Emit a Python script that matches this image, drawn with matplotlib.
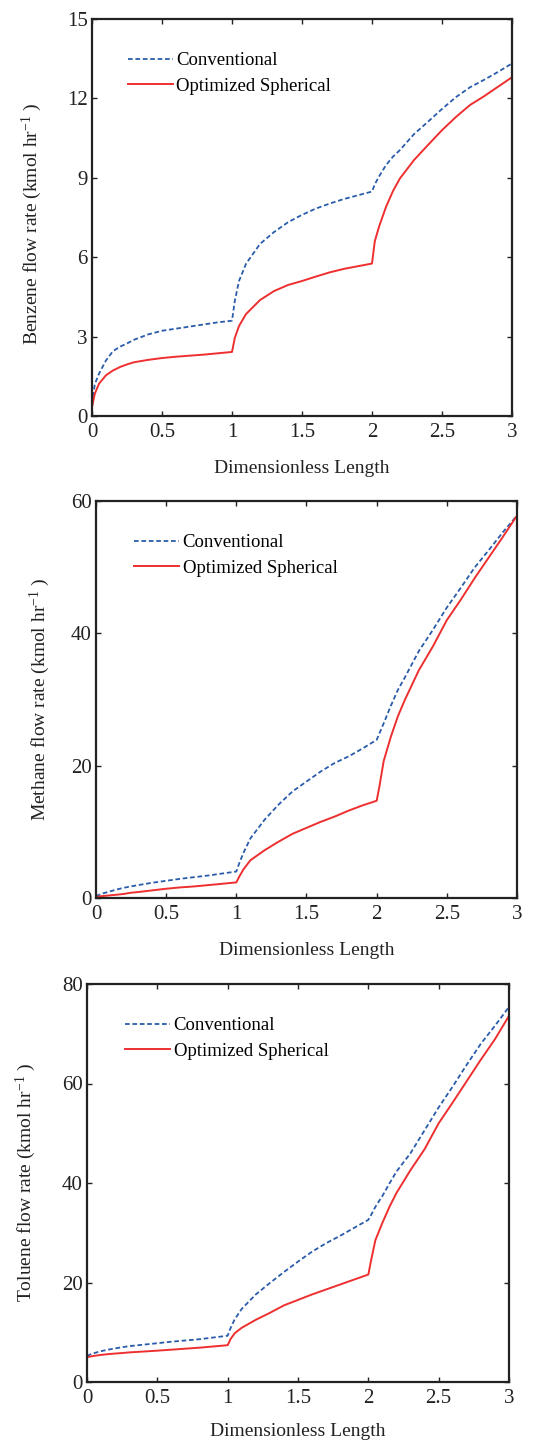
"""
Benzene, methane and toluene flow rates along the reactor
(conventional vs optimized spherical), three stacked panels.
"""
import matplotlib
matplotlib.use("Agg")
import matplotlib.pyplot as plt

plt.rcParams["font.family"] = ["Liberation Serif", "DejaVu Serif"]
plt.rcParams["mathtext.fontset"] = "custom"
plt.rcParams["mathtext.rm"] = "Liberation Serif"
plt.rcParams["mathtext.it"] = "Liberation Serif:italic"

BLUE = "#2a5caa"
RED = "#ee2f2f"
INK = "#222222"

# dimensionless length sample points
x_pts = [0.0, 0.02, 0.05, 0.1, 0.15, 0.2, 0.25, 0.3, 0.4, 0.5, 0.6, 0.7, 0.8, 0.9,
         1.0, 1.02, 1.05, 1.1, 1.2, 1.3, 1.4, 1.5, 1.6, 1.7, 1.8, 1.9,
         2.0, 2.02, 2.05, 2.1, 2.15, 2.2, 2.3, 2.4, 2.5, 2.6, 2.7, 2.8, 2.9, 3.0]

benzene_conv = [0.45, 1.2, 1.6, 2.1, 2.45, 2.62, 2.74, 2.88, 3.08, 3.22, 3.3, 3.38, 3.46, 3.54,
                3.6, 4.35, 5.1, 5.75, 6.5, 6.95, 7.32, 7.6, 7.84, 8.03, 8.2, 8.34,
                8.48, 8.75, 9.05, 9.48, 9.8, 10.05, 10.65, 11.12, 11.6, 12.05, 12.42, 12.7, 13.0, 13.32]
benzene_opt = [0.34, 0.84, 1.22, 1.54, 1.72, 1.85, 1.95, 2.03, 2.12, 2.19, 2.24, 2.28, 2.32, 2.37,
               2.42, 2.95, 3.4, 3.85, 4.38, 4.72, 4.95, 5.1, 5.27, 5.43, 5.56, 5.66,
               5.76, 6.6, 7.15, 7.9, 8.5, 8.98, 9.67, 10.24, 10.8, 11.3, 11.75, 12.08, 12.44, 12.8]

methane_conv = [0.25, 0.45, 0.7, 1.0, 1.3, 1.55, 1.76, 1.95, 2.3, 2.6, 2.9, 3.15, 3.4, 3.7,
                4.0, 5.2, 6.8, 9.0, 11.8, 14.1, 16.1, 17.6, 19.1, 20.4, 21.4, 22.6,
                23.9, 24.9, 26.4, 29.0, 31.4, 33.3, 37.3, 40.5, 43.9, 46.9, 50.0, 52.6, 55.3, 57.8]
methane_opt = [0.15, 0.22, 0.3, 0.4, 0.5, 0.62, 0.8, 0.9, 1.15, 1.4, 1.6, 1.75, 1.95, 2.15,
               2.36, 3.2, 4.3, 5.7, 7.2, 8.5, 9.7, 10.6, 11.5, 12.3, 13.2, 14.0,
               14.7, 16.9, 20.7, 24.3, 27.4, 29.9, 34.4, 38.0, 42.0, 45.1, 48.4, 51.5, 54.6, 57.8]

toluene_conv = [5.2, 5.5, 5.8, 6.2, 6.5, 6.75, 7.0, 7.2, 7.5, 7.8, 8.1, 8.35, 8.6, 8.95,
                9.3, 10.8, 12.6, 14.7, 17.6, 19.9, 22.1, 24.2, 26.2, 27.9, 29.4, 31.0,
                32.6, 33.6, 35.2, 37.4, 39.9, 42.3, 46.0, 50.6, 55.2, 59.4, 63.8, 68.0, 71.6, 75.4]
toluene_opt = [5.0, 5.1, 5.25, 5.45, 5.6, 5.72, 5.82, 5.95, 6.12, 6.3, 6.5, 6.7, 6.9, 7.15,
               7.4, 8.6, 9.8, 10.9, 12.5, 13.9, 15.4, 16.5, 17.6, 18.6, 19.6, 20.6,
               21.6, 24.5, 28.5, 32.0, 35.2, 38.0, 42.6, 46.8, 52.0, 56.2, 60.5, 64.8, 68.9, 73.6]

panels = [
    ("Benzene", benzene_conv, benzene_opt, [0, 3, 6, 9, 12, 15]),
    ("Methane", methane_conv, methane_opt, [0, 20, 40, 60]),
    ("Toluene", toluene_conv, toluene_opt, [0, 20, 40, 60, 80]),
]
x_ticks = [0, 0.5, 1, 1.5, 2, 2.5, 3]
x_ticklabels = ["0", "0.5", "1", "1.5", "2", "2.5", "3"]

W, H = 535, 1440
# axes boxes in pixels: left, right, top, bottom
boxes = [(92, 512, 19, 416), (96, 517, 501, 898), (87, 509, 984, 1382)]
ylabel_xy = [(-0.115, 0.485), (-0.105, 0.5), (-0.117, 0.5)]
legend_x = [0.085, 0.09, 0.09]
xlabel_pad = [13, 13, 11]

fig = plt.figure(figsize=(W / 100, H / 100), dpi=100)

for (name, conv, opt, yt), (l, r, t, b), (lx, ly), gx, xp in zip(
        panels, boxes, ylabel_xy, legend_x, xlabel_pad):
    ax = fig.add_axes([l / W, 1 - b / H, (r - l) / W, (b - t) / H])
    ax.plot(x_pts, conv, color=BLUE, lw=1.3, dashes=(2.6, 1.5), label="Conventional")
    ax.plot(x_pts, opt, color=RED, lw=1.4, label="Optimized Spherical")
    ax.set_xlim(0, 3)
    ax.set_ylim(yt[0], yt[-1])
    ax.set_xticks(x_ticks)
    ax.set_xticklabels(x_ticklabels)
    ax.set_yticks(yt)
    ax.tick_params(direction="in", top=True, right=True, length=3.5, width=1.0,
                   labelsize=15, colors=INK)
    ax.tick_params(axis="x", pad=5)
    ax.tick_params(axis="y", pad=3)
    for sp in ax.spines.values():
        sp.set_linewidth(1.6)
        sp.set_color(INK)
    ax.set_xlabel("Dimensionless Length", fontsize=14, labelpad=xp, color=INK)
    ax.set_ylabel(name + r" flow rate (kmol hr$^{-1}$ )", fontsize=14, color=INK)
    ax.yaxis.set_label_coords(lx, ly)
    ax.legend(loc="upper left", bbox_to_anchor=(gx, 0.917), frameon=False, fontsize=13.5,
              handlelength=2.4, handletextpad=0.2, labelspacing=0.45,
              borderpad=0, borderaxespad=0)

fig.savefig("out.png", dpi=100)
